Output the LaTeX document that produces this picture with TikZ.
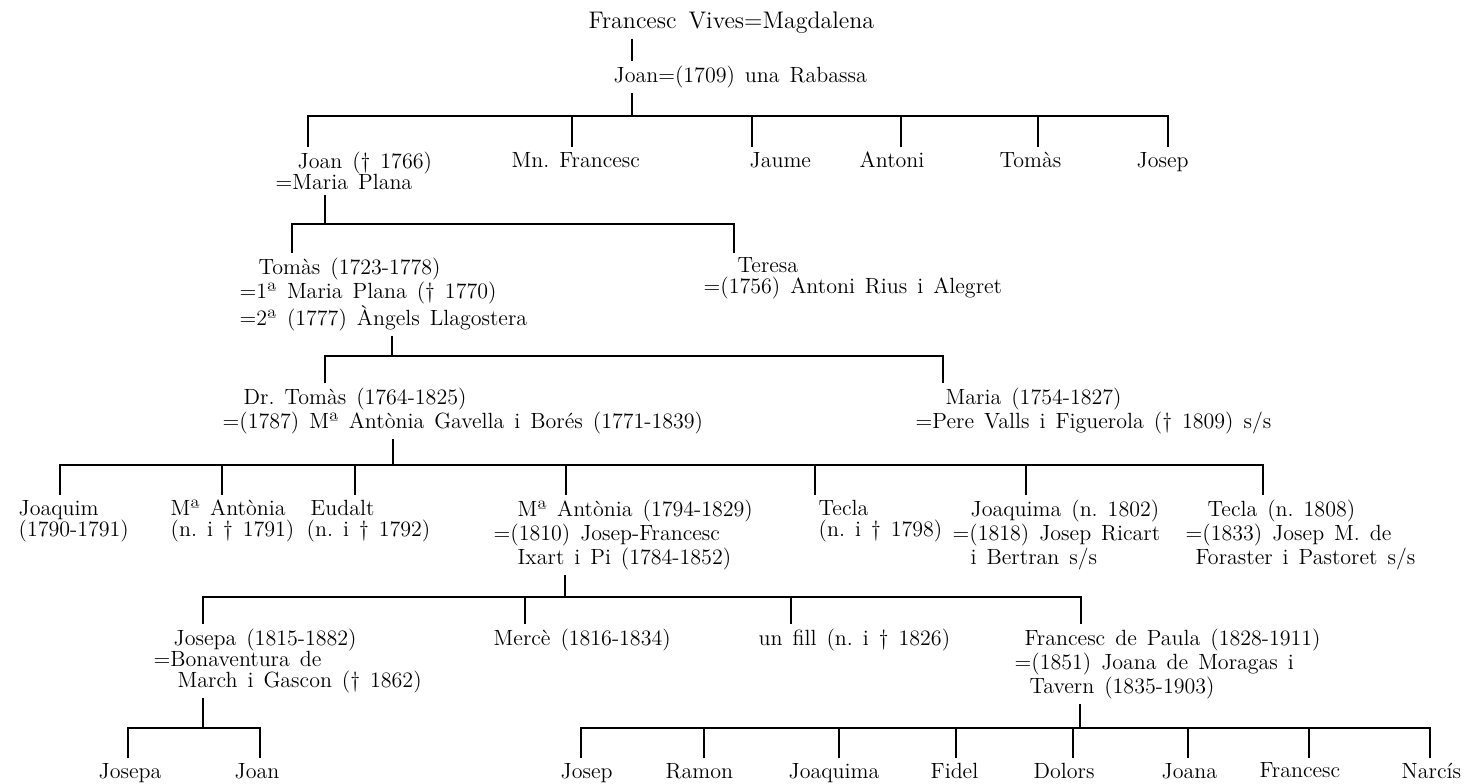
\documentclass[tikz,border=0pt]{standalone}
\usepackage{tikz}
\usetikzlibrary{calc}

\newcommand{\famfont}{\fontsize{11}{10.5}\selectfont\frenchspacing\spaceskip=5pt plus 1pt minus 1pt\relax}
\newcommand{\headfont}{\fontsize{12}{13}\selectfont\frenchspacing\spaceskip=6pt plus 1pt minus 1pt\relax}
\newcommand{\ind}[1]{\hspace*{#1pt}}

\tikzset{
  person/.style={anchor=north west, inner sep=0pt, outer ysep=2.5pt, align=left, font=\famfont},
  head/.style={person, font=\headfont},
}

\begin{document}
\begin{tikzpicture}[x=0.5pt, y=-0.5pt, line width=0.7pt]
    \useasboundingbox (0,0) rectangle (1468,783);

    % Nodes
    \node[head] (vives) at (588,7) {Francesc Vives=Magdalena};
    \node[person] (joan1) at (613,61) {Joan=(1709) una Rabassa};

    \node[person] (joan2) at (275,147) {\ind{11}Joan († 1766)\\=Maria Plana};
    \node[person] (mnfrancesc) at (511,147) {Mn. Francesc};
    \node[person] (jaume) at (749,147) {Jaume};
    \node[person] (antoni) at (859,147) {Antoni};
    \node[person] (tomas1) at (999,147) {Tomàs};
    \node[person] (josep1) at (1136,147) {Josep};

    \node[person] (tomas2) at (239,253) {\ind{9.5}Tomàs (1723-1778)\\=1ª Maria Plana († 1770)\\=2ª (1777) Àngels Llagostera};
    \node[person] (teresa) at (703,253) {\ind{17}Teresa\\=(1756) Antoni Rius i Alegret};

    \node[person] (drtomas) at (222,383) {\ind{10.5}Dr. Tomàs (1764-1825)\\=(1787) Mª Antònia Gavella i Borés (1771-1839)};
    \node[person] (maria) at (915,383) {\ind{15}Maria (1754-1827)\\=Pere Valls i Figuerola († 1809) s/s};

    \node[person] (joaquim) at (18,495) {Joaquim\\(1790-1791)};
    \node[person] (mantonia1) at (170,495) {Mª Antònia\\(n. i † 1791)};
    \node[person] (eudalt) at (306,495) {\ind{2}Eudalt\\(n. i † 1792)};
    \node[person] (mantonia2) at (493,495) {\ind{12}Mª Antònia (1794-1829)\\=(1810) Josep-Francesc\\\ind{12}Ixart i Pi (1784-1852)};
    \node[person] (tecla1) at (818,495) {Tecla\\(n. i † 1798)};
    \node[person] (joaquima1) at (952,495) {\ind{9}Joaquima (n. 1802)\\=(1818) Josep Ricart\\\ind{9}i Bertran s/s};
    \node[person] (tecla2) at (1185,495) {\ind{11}Tecla (n. 1808)\\=(1833) Josep M. de\\\ind{5}Foraster i Pastoret s/s};

    \node[person] (josepa1) at (153,624) {\ind{10}Josepa (1815-1882)\\=Bonaventura de\\\ind{12}March i Gascon († 1862)};
    \node[person] (merce) at (493,624) {Mercè (1816-1834)};
    \node[person] (unfill) at (758,624) {un fill (n. i † 1826)};
    \node[person] (fpaula) at (1014,624) {\ind{5}Francesc de Paula (1828-1911)\\=(1851) Joana de Moragas i\\\ind{7.5}Tavern (1835-1903)};

    \node[person] (josepa2) at (98,758) {Josepa};
    \node[person] (joan3) at (234,758) {Joan};
    \node[person] (josep2) at (560,758) {Josep};
    \node[person] (ramon) at (665,758) {Ramon};
    \node[person] (joaquima2) at (788,758) {Joaquima};
    \node[person] (fidel) at (930,758) {Fidel};
    \node[person] (dolors) at (1033,758) {Dolors};
    \node[person] (joana) at (1161,758) {Joana};
    \node[person] (francesc) at (1259,758) {Francesc};
    \node[person] (narcis) at (1401,758) {Narcís};

    % Family lines
    \coordinate (fam0) at (632,116);
    \draw (vives.south -| fam0) -- (joan1.north -| fam0);
    \draw (joan1.south -| fam0) -- (fam0);
    \draw ($(joan2.north west)+(33,0)$) |- (fam0);
    \draw ($(mnfrancesc.north west)+(61,0)$) |- (fam0);
    \draw ($(jaume.north west)+(3,0)$) |- (fam0);
    \draw ($(antoni.north west)+(42,0)$) |- (fam0);
    \draw ($(tomas1.north west)+(39,0)$) |- (fam0);
    \draw ($(josep1.north west)+(32,0)$) |- (fam0);

    \coordinate (fam1) at (325,224);
    \draw (joan2.south -| fam1) -- (fam1);
    \draw ($(tomas2.north west)+(53,0)$) |- (fam1);
    \draw ($(teresa.north west)+(31,0)$) |- (fam1);

    \coordinate (fam2) at (392,356);
    \draw (tomas2.south -| fam2) -- (fam2);
    \draw ($(drtomas.north west)+(103,0)$) |- (fam2);
    \draw ($(maria.north west)+(28,0)$) |- (fam2);

    \coordinate (fam3) at (393,465);
    \draw (drtomas.south -| fam3) -- (fam3);
    \draw ($(joaquim.north west)+(42,0)$) |- (fam3);
    \draw ($(mantonia1.north west)+(52,0)$) |- (fam3);
    \draw ($(eudalt.north west)+(49,0)$) |- (fam3);
    \draw ($(mantonia2.north west)+(73,0)$) |- (fam3);
    \draw ($(tecla1.north west)+(-3,0)$) |- (fam3);
    \draw ($(joaquima1.north west)+(74,0)$) |- (fam3);
    \draw ($(tecla2.north west)+(78,0)$) |- (fam3);

    \coordinate (fam4) at (565,597);
    \draw (mantonia2.south -| fam4) -- (fam4);
    \draw ($(josepa1.north west)+(50,0)$) |- (fam4);
    \draw ($(merce.north west)+(32,0)$) |- (fam4);
    \draw ($(unfill.north west)+(33,0)$) |- (fam4);
    \draw ($(fpaula.north west)+(67,0)$) |- (fam4);

    \coordinate (fam5) at (203,728);
    \draw (josepa1.south -| fam5) -- (fam5);
    \draw ($(josepa2.north west)+(30,0)$) |- (fam5);
    \draw ($(joan3.north west)+(26,0)$) |- (fam5);

    \coordinate (fam6) at (1080,728);
    \draw (fpaula.south -| fam6) -- (fam6);
    \draw ($(josep2.north west)+(21,0)$) |- (fam6);
    \draw ($(ramon.north west)+(39,0)$) |- (fam6);
    \draw ($(joaquima2.north west)+(51,0)$) |- (fam6);
    \draw ($(fidel.north west)+(26,0)$) |- (fam6);
    \draw ($(dolors.north west)+(40,0)$) |- (fam6);
    \draw ($(joana.north west)+(27,0)$) |- (fam6);
    \draw ($(francesc.north west)+(50,0)$) |- (fam6);
    \draw ($(narcis.north west)+(29,0)$) |- (fam6);
\end{tikzpicture}
\end{document}
